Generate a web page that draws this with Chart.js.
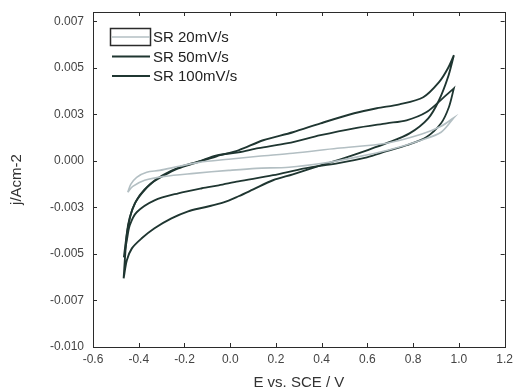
<!DOCTYPE html>
<html>
<head>
<meta charset="utf-8">
<script src="https://cdn.jsdelivr.net/npm/chart.js@4/dist/chart.umd.min.js"></script>
<style>
html,body{margin:0;padding:0;background:#fff;}
#wrap{width:518px;height:391px;}
</style>
</head>
<body>
<div id="wrap"><canvas id="c" width="518" height="391"></canvas></div>
<script>
// Series labels
const seriesLabels = ["SR 20mV/s", "SR 50mV/s", "SR 100mV/s"];

// SR 20 mV/s loop (E in V, j in A/cm2): forward sweep then reverse sweep
const e20 = [-0.448,-0.435,-0.409,-0.365,-0.309,-0.223,-0.137,-0.007,0.123,0.274,0.468,0.684,0.835,0.922,0.978,
             0.978,0.922,0.835,0.689,0.546,0.403,0.257,0.114,-0.007,-0.158,-0.288,-0.374,-0.426,-0.448];
const j20 = [-0.00169,-0.00126,-0.00088,-0.00061,-0.00051,-0.00029,-0.00008,0.00009,0.00025,0.00041,0.00068,0.00095,0.00143,0.00186,0.00232,
             0.00232,0.00154,0.00111,0.00057,0.00019,-0.00013,-0.00034,-0.00040,-0.00051,-0.00067,-0.00083,-0.00104,-0.00137,-0.00169];

// SR 50 mV/s loop
const e50 = [-0.465,-0.456,-0.443,-0.426,-0.396,-0.352,-0.296,-0.223,-0.137,-0.059,0.036,0.123,0.252,0.395,0.542,0.684,0.771,0.857,0.930,0.978,
             0.978,0.956,0.922,0.857,0.771,0.684,0.598,0.468,0.326,0.187,0.036,-0.050,-0.124,-0.227,-0.331,-0.409,-0.439,-0.452,-0.465];
const j50 = [-0.00518,-0.00427,-0.00330,-0.00255,-0.00185,-0.00126,-0.00077,-0.00034,-0.00002,0.00030,0.00046,0.00068,0.00095,0.00138,0.00175,0.00202,0.00218,0.00261,0.00337,0.00390,
             0.00390,0.00288,0.00202,0.00127,0.00084,0.00052,0.00019,-0.00013,-0.00040,-0.00077,-0.00110,-0.00131,-0.00147,-0.00174,-0.00212,-0.00276,-0.00346,-0.00427,-0.00518];

// SR 100 mV/s loop
const e100 = [-0.466,-0.460,-0.452,-0.439,-0.417,-0.387,-0.344,-0.288,-0.227,-0.158,-0.059,0.036,0.144,0.274,0.395,0.542,0.641,0.740,0.844,0.913,0.952,0.978,
              0.978,0.952,0.913,0.866,0.784,0.684,0.598,0.468,0.382,0.274,0.187,0.101,0.036,-0.029,-0.111,-0.184,-0.257,-0.331,-0.387,-0.430,-0.452,-0.466];
const j100 = [-0.00631,-0.00518,-0.00389,-0.00303,-0.00228,-0.00174,-0.00120,-0.00077,-0.00040,-0.00013,0.00025,0.00057,0.00111,0.00154,0.00202,0.00256,0.00283,0.00304,0.00342,0.00423,0.00498,0.00568,
              0.00568,0.00449,0.00326,0.00229,0.00148,0.00095,0.00057,0.00003,-0.00029,-0.00072,-0.00104,-0.00153,-0.00190,-0.00223,-0.00249,-0.00271,-0.00309,-0.00362,-0.00416,-0.00470,-0.00534,-0.00631];

// Axis ticks
const xTickValues = [-0.6,-0.4,-0.2,0.0,0.2,0.4,0.6,0.8,1.0,1.2];
const xTickLabels = ["-0.6","-0.4","-0.2","0.0","0.2","0.4","0.6","0.8","1.0","1.2"];
const yTickValues = [0.0075,0.005,0.0025,0,-0.0025,-0.005,-0.0075,-0.01];
const yTickLabels = ["0.007","0.005","0.003","0.000","-0.003","-0.005","-0.007","-0.010"];

const colors = ["#b3bfc3", "#1f3631", "#1f3631"];
const widths = [1.6, 1.8, 1.9];

function pts(es, js){ return es.map((e,i)=>({x:e, y:js[i]})); }

const frame = {
  id: 'frame',
  afterDraw(chart){
    const {ctx, chartArea:a, scales} = chart;
    ctx.save();
    ctx.strokeStyle = '#2b2b2b';
    ctx.lineWidth = 1;
    ctx.strokeRect(Math.round(a.left)+0.5, Math.round(a.top)+0.5, Math.round(a.right-a.left), Math.round(a.bottom-a.top));
    const L = 4;
    ctx.beginPath();
    xTickValues.forEach(v=>{
      const px = Math.round(scales.x.getPixelForValue(v))+0.5;
      ctx.moveTo(px, a.bottom); ctx.lineTo(px, a.bottom-L);
      ctx.moveTo(px, a.top); ctx.lineTo(px, a.top+L);
    });
    yTickValues.forEach(v=>{
      const py = Math.round(scales.y.getPixelForValue(v))+0.5;
      ctx.moveTo(a.left, py); ctx.lineTo(a.left+L, py);
      ctx.moveTo(a.right, py); ctx.lineTo(a.right-L, py);
    });
    ctx.stroke();
    // legend
    ctx.font = '15px "Liberation Sans", Arial, sans-serif';
    ctx.textBaseline = 'middle';
    ctx.textAlign = 'left';
    chart.data.datasets.forEach((ds,i)=>{
      const y = a.top + 25 + i*19.5;
      const x0 = a.left + 19, x1 = a.left + 57;
      if(i===0){
        ctx.strokeStyle = '#2b2b2b';
        ctx.lineWidth = 1.5;
        ctx.strokeRect(a.left+17.5, y-8.5, 40, 17);
      }
      ctx.strokeStyle = ds.borderColor;
      ctx.lineWidth = ds.borderWidth;
      ctx.beginPath(); ctx.moveTo(x0, y); ctx.lineTo(x1, y); ctx.stroke();
      ctx.fillStyle = '#222';
      ctx.fillText(ds.label, a.left + 60, y+1);
    });
    ctx.restore();
  }
};

new Chart(document.getElementById('c'), {
  type: 'scatter',
  data: {
    datasets: [
      {label: seriesLabels[0], data: pts(e20, j20), borderColor: colors[0], borderWidth: widths[0]},
      {label: seriesLabels[1], data: pts(e50, j50), borderColor: colors[1], borderWidth: widths[1]},
      {label: seriesLabels[2], data: pts(e100, j100), borderColor: colors[2], borderWidth: widths[2]}
    ].map(d=>Object.assign(d,{showLine:true, pointRadius:0, tension:0.3, fill:false}))
  },
  options: {
    responsive: false,
    animation: false,
    layout: {padding: {left: 0, right: 8, top: 12, bottom: 0}},
    plugins: {legend: {display: false}, tooltip: {enabled: false}},
    scales: {
      x: {
        type: 'linear', min: -0.6, max: 1.2,
        grid: {display: false, drawTicks: false},
        border: {display: false},
        afterBuildTicks: ax => { ax.ticks = xTickValues.map(v=>({value:v})); },
        afterFit: ax => { ax.height = 44; },
        ticks: {
          padding: 5, color: '#444', maxRotation: 0, autoSkip: false,
          font: {size: 12, family: '"Liberation Sans", Arial, sans-serif'},
          callback: (v) => { const i = xTickValues.findIndex(t=>Math.abs(t-v)<1e-9); return i>=0 ? xTickLabels[i] : ''; }
        },
        title: {display: true, text: 'E vs. SCE / V', color: '#333',
          font: {size: 15, family: '"Liberation Sans", Arial, sans-serif'}, padding: {top: 0, bottom: -1}}
      },
      y: {
        type: 'linear', min: -0.01, max: 0.008,
        grid: {display: false, drawTicks: false},
        border: {display: false},
        afterBuildTicks: ax => { ax.ticks = yTickValues.map(v=>({value:v})); },
        afterFit: ax => { ax.width = 93; ax.paddingTop = 0; ax.paddingBottom = 0; },
        ticks: {
          padding: 9, color: '#444', autoSkip: false,
          font: {size: 12, family: '"Liberation Sans", Arial, sans-serif'},
          callback: (v) => { const i = yTickValues.findIndex(t=>Math.abs(t-v)<1e-12); return i>=0 ? yTickLabels[i] : ''; }
        },
        title: {display: true, text: 'j/Acm-2', color: '#333',
          font: {size: 15, family: '"Liberation Sans", Arial, sans-serif'}, padding: {top: 8, bottom: 0}}
      }
    }
  },
  plugins: [frame]
});
</script>
</body>
</html>
